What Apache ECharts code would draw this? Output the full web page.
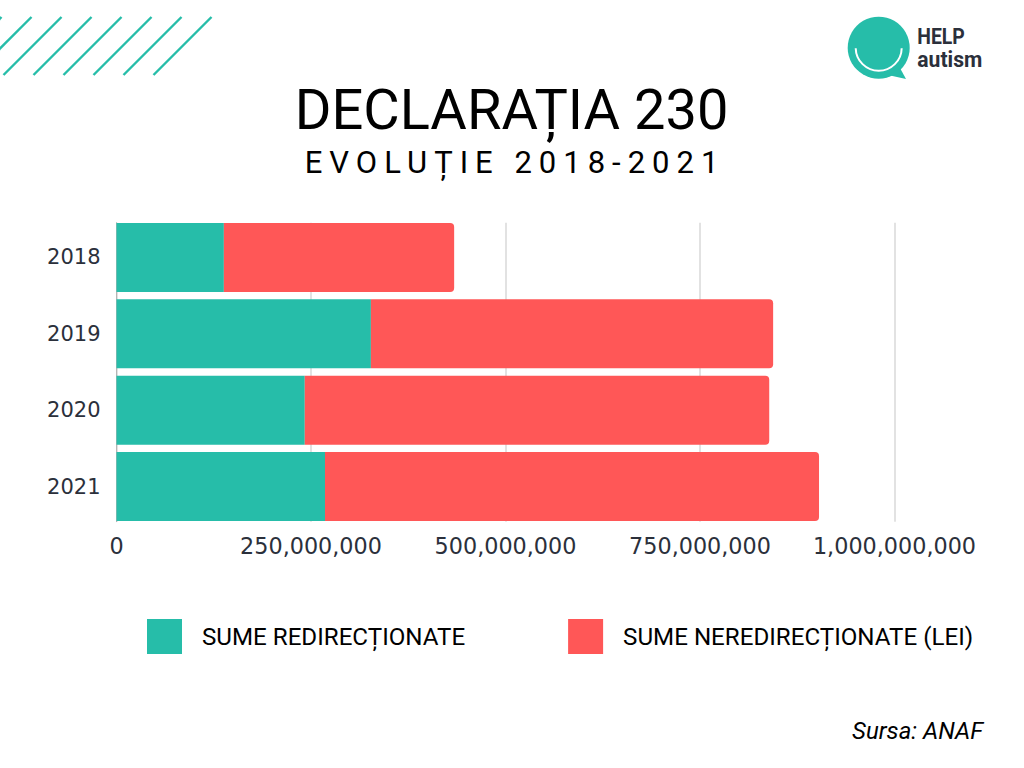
<!DOCTYPE html>
<html>
<head>
<meta charset="utf-8">
<title>Declarația 230</title>
<style>
  html, body { margin: 0; padding: 0; background: #fff; }
  #chart { width: 1024px; height: 768px; }
</style>
<script src="https://cdn.jsdelivr.net/npm/echarts@6/dist/echarts.min.js"></script>
</head>
<body>
<div id="chart"></div>
<script>
var years = ['2018', '2019', '2020', '2021'];
var redirectionate = [138000000, 327000000, 242000000, 268000000];
var neredirectionate = [296000000, 517000000, 597000000, 635000000];
var seriesNames = ['SUME REDIRECȚIONATE', 'SUME NEREDIRECȚIONATE (LEI)'];
var GREEN = '#26bda9';
var RED = '#ff5757';
var INK = '#2b303b';

// hasurile din coltul stanga-sus
var stripeStarts = [-56.5, -26.5, 3.5, 33.5, 63.5, 93.5, 123.5, 153.5];

function stripes() {
  return stripeStarts.map(function (x) {
    return {
      type: 'line',
      shape: { x1: x, y1: 75, x2: x + 58, y2: 17 },
      style: { stroke: GREEN, lineWidth: 2.4 },
      silent: true
    };
  });
}

function logoText(text, y, scaleX) {
  return {
    type: 'text', x: 917.3, y: y, scaleX: scaleX,
    style: { text: text, fill: INK, font: 'bold 22px Roboto', textVerticalAlign: 'middle' },
    silent: true
  };
}

function logo() {
  return [
    { type: 'circle', shape: { cx: 878.7, cy: 47.7, r: 31 }, style: { fill: GREEN }, silent: true },
    { type: 'polygon', shape: { points: [[900, 68], [906, 79], [888, 75]] }, style: { fill: GREEN }, silent: true },
    {
      type: 'arc',
      shape: { cx: 878.7, cy: 47.7, r: 23, startAngle: 0.02, endAngle: Math.PI - 0.02 },
      style: { stroke: '#fff', lineWidth: 2, fill: null },
      silent: true
    },
    logoText('HELP', 37, 0.88),
    logoText('autism', 59, 0.96)
  ];
}

var chart = echarts.init(document.getElementById('chart'), null, { renderer: 'svg' });

chart.setOption({
  animation: false,
  backgroundColor: '#fff',
  title: [
    {
      text: 'DECLARAȚIA 230',
      left: 506.5, top: 77, textAlign: 'center',
      textStyle: { fontFamily: 'Roboto', fontSize: 56, fontWeight: 400, color: '#000' }
    },
    {
      text: 'EVOLUȚIE 2018-2021',
      left: 510, top: 142, textAlign: 'center',
      textStyle: { fontFamily: 'Roboto', fontSize: 31, fontWeight: 400, color: '#000' }
    },
    {
      text: 'Sursa: ANAF',
      right: 36, top: 714,
      textStyle: { fontFamily: 'Roboto', fontSize: 24, fontWeight: 400, fontStyle: 'italic', color: '#000' }
    }
  ],
  legend: {
    left: 142, top: 614,
    itemWidth: 35, itemHeight: 35, itemGap: 103,
    icon: 'rect',
    data: seriesNames,
    selectedMode: false,
    textStyle: { fontFamily: 'Roboto', fontSize: 24.15, color: '#000', padding: [0, 0, 0, 15] }
  },
  // grid 0 = barele (lipite de sus si de jos), grid 1 = liniile de ghidaj si axa X
  grid: [
    { left: 116.5, right: 129.5, top: 219.2, bottom: 243.2 },
    { left: 116.5, right: 129.5, top: 222.7, bottom: 246.3 }
  ],
  xAxis: [
    {
      gridIndex: 0, type: 'value',
      min: 0, max: 1000000000, interval: 250000000,
      show: false
    },
    {
      gridIndex: 1, type: 'value',
      min: 0, max: 1000000000, interval: 250000000,
      axisLine: { show: false },
      axisTick: { show: false },
      axisLabel: {
        margin: 13,
        fontFamily: 'DejaVu Sans', fontSize: 22.3, color: INK,
        formatter: function (v) { return v.toLocaleString('en-US'); }
      },
      splitLine: { lineStyle: { color: '#d9d9d9', width: 1.5 } }
    }
  ],
  yAxis: [
    {
      gridIndex: 0, type: 'category',
      data: years,
      inverse: true,
      axisLine: { show: false },
      axisTick: { show: false },
      axisLabel: { margin: 16, padding: [0, 0, 3, 0], fontFamily: 'DejaVu Sans', fontSize: 21, color: INK }
    },
    {
      gridIndex: 1, type: 'category',
      data: years,
      inverse: true,
      axisLine: { lineStyle: { color: '#b5b5b5', width: 1 } },
      axisTick: { show: false },
      axisLabel: { show: false }
    }
  ],
  series: [
    {
      name: seriesNames[0], type: 'bar', stack: 'total', barWidth: 69,
      xAxisIndex: 0, yAxisIndex: 0,
      data: redirectionate,
      itemStyle: { color: GREEN }
    },
    {
      name: seriesNames[1], type: 'bar', stack: 'total', barWidth: 69,
      xAxisIndex: 0, yAxisIndex: 0,
      data: neredirectionate,
      itemStyle: { color: RED, borderRadius: [0, 4, 4, 0] }
    }
  ],
  graphic: stripes().concat(logo())
});

// spatierea literelor din subtitlu
document.querySelectorAll('#chart text').forEach(function (t) {
  if (t.textContent === 'EVOLUȚIE 2018-2021') t.style.letterSpacing = '7px';
});
</script>
</body>
</html>
